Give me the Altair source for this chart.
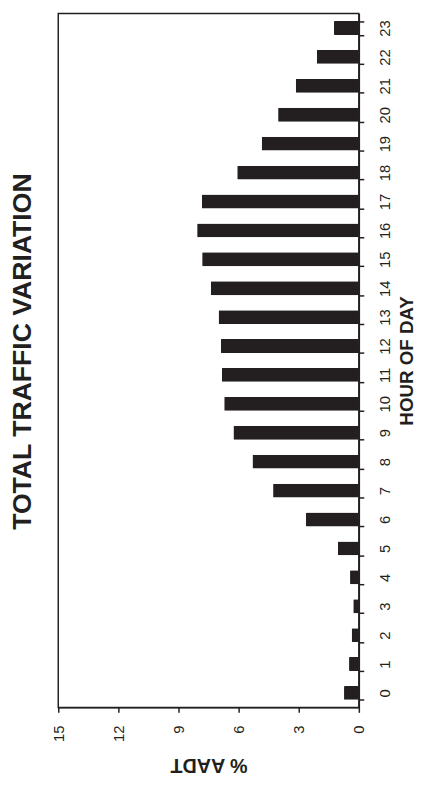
import altair as alt
import pandas as pd

hours = list(range(24))
pct_aadt = [0.74, 0.49, 0.36, 0.28, 0.44, 1.05, 2.64, 4.28, 5.31, 6.26, 6.72, 6.84,
            6.89, 7.00, 7.39, 7.82, 8.07, 7.84, 6.07, 4.85, 4.03, 3.15, 2.10, 1.24]
x_ticks = [0, 3, 6, 9, 12, 15]

df = pd.DataFrame({"hour": hours, "pct": pct_aadt})

INK = "#231f20"
FONT = "Liberation Sans"

chart = alt.Chart(df).mark_bar(color=INK, cornerRadius=1).encode(
    x=alt.X(
        "pct:Q",
        scale=alt.Scale(domain=[0, 15], reverse=True, nice=False, zero=True),
        axis=alt.Axis(
            values=x_ticks,
            title="% AADT",
            titleAngle=180,
            titleBaseline="bottom",
            titleFontSize=20,
            titleFontWeight="bold",
            titlePadding=13,
            labelAngle=270,
            labelFontSize=15,
            labelPadding=13,
            grid=False,
        ),
    ),
    y=alt.Y(
        "hour:O",
        sort="descending",
        scale=alt.Scale(paddingInner=0.52, paddingOuter=0.26),
        axis=alt.Axis(
            orient="right",
            title="HOUR OF DAY",
            titleAngle=270,
            titleBaseline="top",
            titleFontSize=19,
            titleFontWeight="bold",
            titlePadding=5,
            labelAngle=270,
            labelFontSize=15,
            labelPadding=14,
            tickBand="extent",
            grid=False,
        ),
    ),
).properties(
    width=305,
    height=704,
    title=alt.TitleParams(
        "TOTAL TRAFFIC VARIATION",
        orient="left",
        anchor="middle",
        fontSize=27,
        fontWeight="bold",
        font=FONT,
        color=INK,
        offset=15,
        dx=9,
    ),
    padding={"left": 51, "top": 0, "right": 59, "bottom": 66},
    autosize=alt.AutoSizeParams(type="none"),
).configure_view(
    stroke=INK, strokeWidth=1.5
).configure_axis(
    domainColor=INK,
    domainWidth=1.5,
    tickColor=INK,
    tickWidth=1.5,
    tickSize=5,
    labelColor=INK,
    titleColor=INK,
    labelFont=FONT,
    titleFont=FONT,
)

chart.save("out.html", embed_options={"renderer": "svg", "actions": False})
